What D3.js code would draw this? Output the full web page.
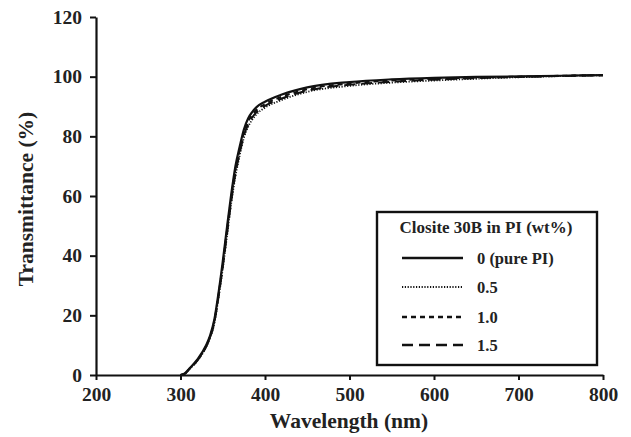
<!DOCTYPE html>
<html>
<head>
<meta charset="utf-8">
<script src="https://cdn.jsdelivr.net/npm/d3@7"></script>
<style>
html,body{margin:0;padding:0;background:#fff;}
svg{display:block;font-family:"Liberation Serif","Times New Roman",serif;font-weight:bold;}
</style>
</head>
<body>
<svg id="chart" width="631" height="437"></svg>
<script>
const wavelengths = [300,305,310,320,330,335,340,345,350,355,360,365,370,375,380,385,390,400,420,450,500,550,600,650,700,750,800];
const seriesNames = ["0 (pure PI)","0.5","1.0","1.5"];
const t0  = [0,0.5,2,5.2,9.8,13.2,18.5,27.5,38,49.5,60.5,70,76.5,82.3,86,88.2,89.8,91.6,94,96.4,98.2,99.1,99.6,99.9,100.1,100.3,100.5];
const t05 = [0,0.4,1.8,4.8,9.2,12.4,17.2,25.8,35.6,46.5,57.5,66.5,73.5,79.5,83.2,85.6,87.4,89.6,92.2,94.9,96.9,98,98.7,99.3,99.8,100.2,100.5];
const t10 = [0,0.5,1.9,5,9.5,12.8,18,26.8,37,48.3,59.3,68.8,75.3,81.2,85,87.2,88.9,90.8,93.3,95.8,97.7,98.7,99.3,99.7,100,100.3,100.5];
const t15 = [0,0.4,1.8,4.9,9.3,12.6,17.6,26.3,36.2,47.2,58.2,67.5,74.3,80.3,84,86.4,88.1,90.2,92.7,95.3,97.3,98.3,99,99.5,99.9,100.2,100.5];
const xTicks = [200,300,400,500,600,700,800];
const yTicks = [0,20,40,60,80,100,120];
const legendTitle = "Closite 30B in PI (wt%)";

const allSeries = [t0,t05,t10,t15];
const dashes = [null,"1.2,1.6","5,4","11,6"];
const widths = [2.2,1.8,2,2];

const svg = d3.select("#chart");
const x = d3.scaleLinear().domain([200,800]).range([96,603]);
const y = d3.scaleLinear().domain([0,120]).range([375,17]);

// axes
const xAxis = svg.append("g").attr("transform","translate(0,375)")
  .call(d3.axisBottom(x).tickValues(xTicks).tickSize(5).tickSizeOuter(0).tickPadding(4));
const yAxis = svg.append("g").attr("transform","translate(96,0)")
  .call(d3.axisLeft(y).tickValues(yTicks).tickSize(6).tickSizeOuter(0).tickPadding(8));
[xAxis,yAxis].forEach(g=>{
  g.selectAll("path.domain").attr("stroke","#111").attr("stroke-width",2.2);
  g.selectAll(".tick line").attr("stroke","#111").attr("stroke-width",2);
  g.selectAll(".tick text").attr("fill","#222").style("font-size","19.5px")
   .style("font-family","Liberation Serif, serif").style("font-weight","bold");
});
xAxis.selectAll(".tick text").attr("dy","0.85em");

// axis titles
svg.append("text").attr("x",349).attr("y",428).attr("text-anchor","middle")
  .style("font-size","21.5px").attr("fill","#222").text("Wavelength (nm)");
svg.append("text").attr("transform","translate(33,199) rotate(-90)").attr("text-anchor","middle")
  .style("font-size","21.5px").attr("fill","#222").text("Transmittance (%)");

// curves
const line = d3.line().x((d,i)=>x(wavelengths[i])).y(d=>y(d)).curve(d3.curveMonotoneX);
allSeries.forEach((s,k)=>{
  svg.append("path").datum(s).attr("d",line).attr("fill","none")
    .attr("stroke","#111").attr("stroke-width",widths[k])
    .attr("stroke-dasharray",dashes[k]);
});

// legend
const lg = svg.append("g");
lg.append("rect").attr("x",377).attr("y",212).attr("width",220).attr("height",153)
  .attr("fill","#fff").attr("stroke","#111").attr("stroke-width",2.4);
lg.append("text").attr("x",486).attr("y",233).attr("text-anchor","middle")
  .style("font-size","17px").attr("fill","#222").text(legendTitle);
const rowY = [258,287,317,345];
seriesNames.forEach((n,k)=>{
  lg.append("line").attr("x1",402).attr("x2",463).attr("y1",rowY[k]).attr("y2",rowY[k])
    .attr("stroke","#111").attr("stroke-width",widths[k]+0.3).attr("stroke-dasharray",dashes[k]);
  lg.append("text").attr("x",477).attr("y",rowY[k]+6).style("font-size","16.5px")
    .attr("fill","#222").text(n);
});
</script>
</body>
</html>
